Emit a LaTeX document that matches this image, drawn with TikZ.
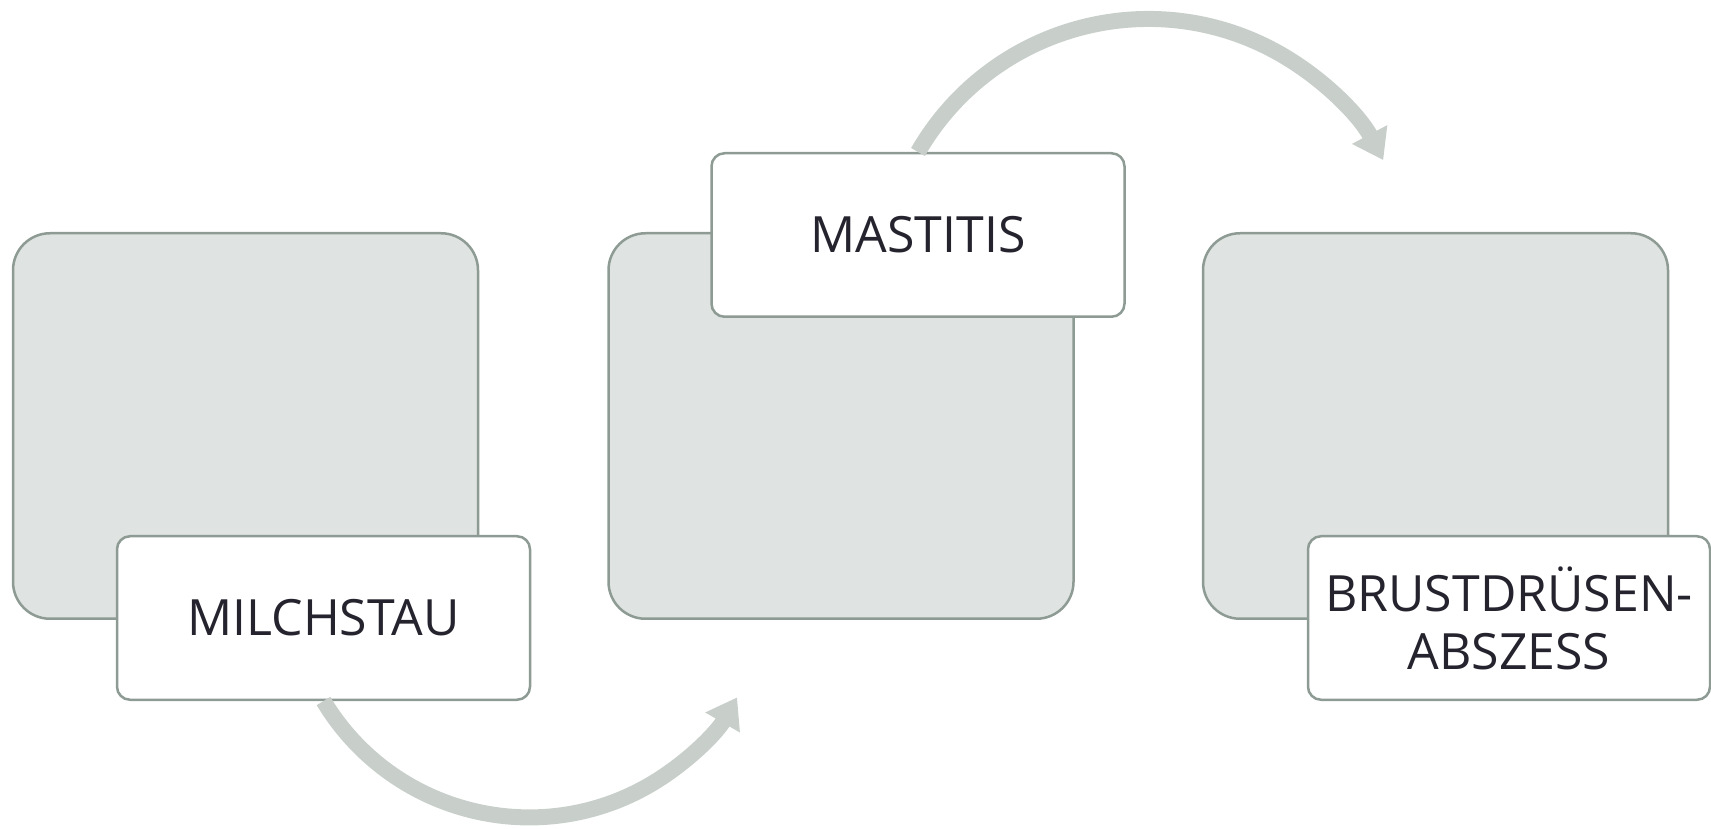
\documentclass[tikz,border=0pt]{standalone}
\usepackage{fontspec}
\setmainfont{Open Sans}
\usetikzlibrary{arrows.meta}
\definecolor{boxfill}{HTML}{DFE3E1}
\definecolor{boxline}{HTML}{8E9B94}
\definecolor{flowgray}{HTML}{C8CFCA}
\definecolor{inkdark}{HTML}{25242E}
\tikzset{
  stage/.style={draw=boxline, fill=boxfill, line width=2.5pt, rounded corners=37pt,
    minimum width=465pt, minimum height=385.5pt, inner sep=0pt},
  tag/.style={draw=boxline, fill=white, line width=2.5pt, rounded corners=13pt,
    minimum width=413pt, minimum height=163.5pt, inner sep=0pt, text=inkdark,
    align=center, font=\fontsize{50}{58}\selectfont},
  flow/.style={draw=flowgray, line width=16pt, -{Triangle[length=29pt,width=38pt]}}
}
\begin{document}
\begin{tikzpicture}[x=1pt,y=1pt]
  \useasboundingbox (0,0) rectangle (1711,828);

  \node[stage] (milk) at (245.5,402) {};
  \node[stage] (mast) at (841,402) {};
  \node[stage] (absc) at (1435.5,402) {};

  \node[tag] (milkT) at (323.5,210) {MILCHSTAU};
  \node[tag] (mastT) at (918,593) {MASTITIS};
  \node[tag, minimum width=402pt] (abscT) at (1509,210) {BRUSTDRÜSEN-\\ABSZESS};

  \draw[flow] (milkT.south) arc[start angle=211, end angle=330, radius=240pt];
  \draw[flow] (mastT.north) arc[start angle=150, end angle=28, radius=266pt];
\end{tikzpicture}
\end{document}
